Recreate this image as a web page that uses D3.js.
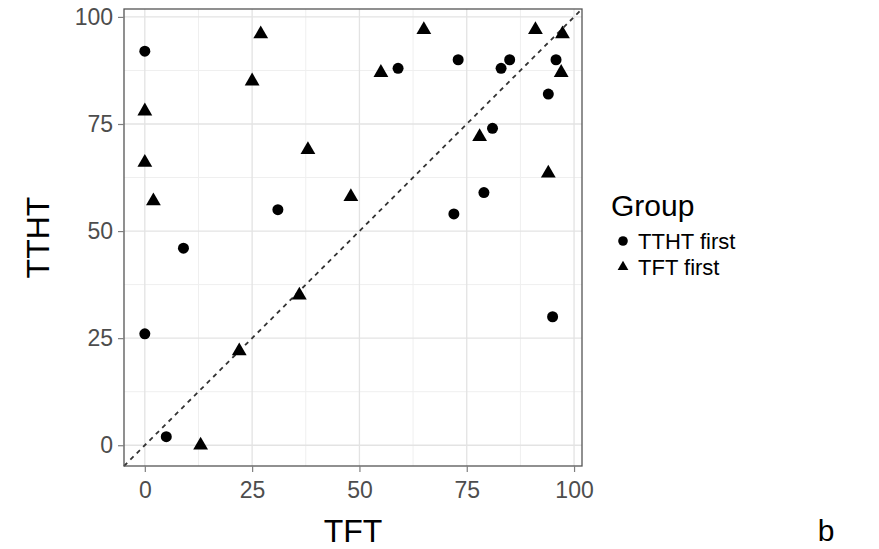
<!DOCTYPE html>
<html>
<head>
<meta charset="utf-8">
<script src="https://cdn.jsdelivr.net/npm/d3@7"></script>
<style>
  body { margin: 0; background: #fff; }
  svg { display: block; font-family: "Liberation Sans", Arial, Helvetica, sans-serif; }
  .tick text { fill: #4d4d4d; font-size: 23px; }
  .tick line { stroke: #7f7f7f; stroke-width: 1.2; }
  .domain { display: none; }
</style>
</head>
<body>
<div id="chart"></div>
<script>
// TTHT first (circles)
var tthtX = [0, 0, 5, 9, 31, 59, 73, 72, 79, 81, 83, 85, 94, 95.8, 95];
var tthtY = [92, 26, 2, 46, 55, 88, 90, 54, 59, 74, 88, 90, 82, 90, 30];
// TFT first (triangles)
var tftX = [0, 0, 2, 13, 22, 25, 27, 36, 38, 48, 55, 65, 78, 91, 97.3, 97, 94];
var tftY = [78, 66, 57, 0, 22, 85, 96, 35, 69, 58, 87, 97, 72, 97, 96, 87, 63.5];

var majorTicks = [0, 25, 50, 75, 100];
var minorTicks = [12.5, 37.5, 62.5, 87.5];
var groups = ["TTHT first", "TFT first"];

var width = 879, height = 549;
var panel = { left: 124, right: 582, top: 9, bottom: 466 };

var svg = d3.select("#chart").append("svg")
    .attr("width", width)
    .attr("height", height);

var x = d3.scaleLinear().domain([-4.85, 101.85]).range([panel.left, panel.right]);
var y = d3.scaleLinear().domain([-4.85, 101.85]).range([panel.bottom, panel.top]);

// grid
var grid = svg.append("g");
minorTicks.forEach(function (t) {
    grid.append("line").attr("x1", x(t)).attr("x2", x(t)).attr("y1", panel.top).attr("y2", panel.bottom)
        .style("stroke", "#efefef").style("stroke-width", 1);
    grid.append("line").attr("y1", y(t)).attr("y2", y(t)).attr("x1", panel.left).attr("x2", panel.right)
        .style("stroke", "#efefef").style("stroke-width", 1);
});
majorTicks.forEach(function (t) {
    grid.append("line").attr("x1", x(t)).attr("x2", x(t)).attr("y1", panel.top).attr("y2", panel.bottom)
        .style("stroke", "#e3e3e3").style("stroke-width", 1.3);
    grid.append("line").attr("y1", y(t)).attr("y2", y(t)).attr("x1", panel.left).attr("x2", panel.right)
        .style("stroke", "#e3e3e3").style("stroke-width", 1.3);
});

// identity line
svg.append("line")
    .attr("x1", x(-4.85)).attr("y1", y(-4.85))
    .attr("x2", x(101.85)).attr("y2", y(101.85))
    .style("stroke", "#333")
    .style("stroke-width", 1.8)
    .style("stroke-dasharray", "4.5,4.5");

// points
var circleData = tthtX.map(function (v, i) { return [v, tthtY[i]]; });
var triData = tftX.map(function (v, i) { return [v, tftY[i]]; });

svg.append("g").selectAll("circle")
    .data(circleData)
    .enter().append("circle")
    .attr("cx", function (d) { return x(d[0]); })
    .attr("cy", function (d) { return y(d[1]); })
    .attr("r", 5.5)
    .style("fill", "#000");

var tri = d3.symbol().type(d3.symbolTriangle).size(95);
svg.append("g").selectAll("path")
    .data(triData)
    .enter().append("path")
    .attr("d", tri)
    .attr("transform", function (d) { return "translate(" + x(d[0]) + "," + y(d[1]) + ")"; })
    .style("fill", "#000");

// panel border
svg.append("rect")
    .attr("x", panel.left).attr("y", panel.top)
    .attr("width", panel.right - panel.left)
    .attr("height", panel.bottom - panel.top)
    .style("fill", "none")
    .style("stroke", "#555")
    .style("stroke-width", 1.3);

// axes
svg.append("g")
    .attr("transform", "translate(0," + panel.bottom + ")")
    .call(d3.axisBottom(x).tickValues(majorTicks).tickSize(6).tickPadding(10));

svg.append("g")
    .attr("transform", "translate(" + panel.left + ",0)")
    .call(d3.axisLeft(y).tickValues(majorTicks).tickSize(6).tickPadding(5));

// axis titles
svg.append("text")
    .attr("x", 353)
    .attr("y", 542)
    .attr("text-anchor", "middle")
    .style("font-size", "32px")
    .style("fill", "#000")
    .text("TFT");

svg.append("text")
    .attr("transform", "translate(49," + ((panel.top + panel.bottom) / 2) + ") rotate(-90)")
    .attr("text-anchor", "middle")
    .style("font-size", "32px")
    .style("fill", "#000")
    .text("TTHT");

// legend
var legend = svg.append("g").attr("transform", "translate(611,0)");
legend.append("text")
    .attr("x", 0).attr("y", 216)
    .style("font-size", "30px")
    .text("Group");

var legY = [241, 267];
var legBase = [249, 275];
groups.forEach(function (g, i) {
    if (i === 0) {
        legend.append("circle").attr("cx", 12).attr("cy", legY[i]).attr("r", 4.8).style("fill", "#000");
    } else {
        legend.append("path")
            .attr("d", d3.symbol().type(d3.symbolTriangle).size(50))
            .attr("transform", "translate(12," + legY[i] + ")")
            .style("fill", "#000");
    }
    legend.append("text")
        .attr("x", 27).attr("y", legBase[i])
        .style("font-size", "22px")
        .text(g);
});

svg.append("text")
    .attr("x", 826).attr("y", 541)
    .attr("text-anchor", "middle")
    .style("font-size", "30px")
    .text("b");
</script>
</body>
</html>
